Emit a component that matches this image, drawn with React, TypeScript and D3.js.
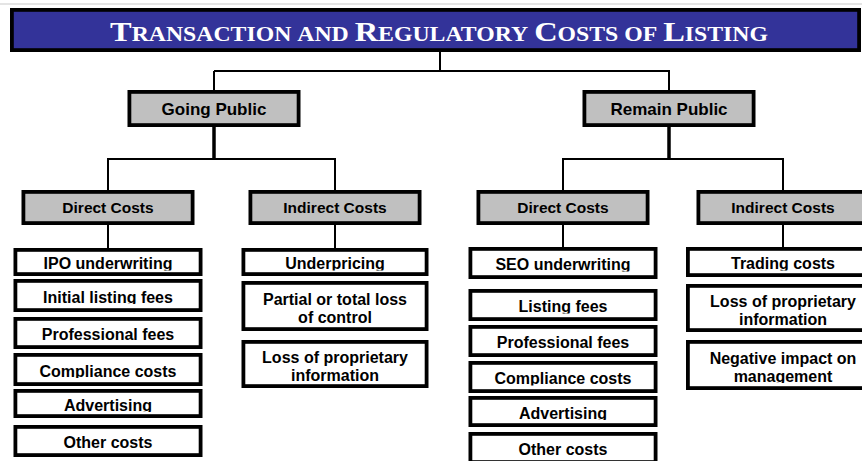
import React from "react";
import * as d3 from "d3";

// ---------- data ----------
const titleText = "Transaction and Regulatory Costs of Listing";
const stages = ["Going Public", "Remain Public"];
const costTypes = ["Direct Costs", "Indirect Costs"];
const goingPublicDirect = [
  "IPO underwriting",
  "Initial listing fees",
  "Professional fees",
  "Compliance costs",
  "Advertising",
  "Other costs",
];
const goingPublicIndirect = [
  "Underpricing",
  "Partial or total loss|of control",
  "Loss of proprietary|information",
];
const remainPublicDirect = [
  "SEO underwriting",
  "Listing fees",
  "Professional fees",
  "Compliance costs",
  "Advertising",
  "Other costs",
];
const remainPublicIndirect = [
  "Trading costs",
  "Loss of proprietary|information",
  "Negative impact on|management",
];

// ---------- layout ----------
const W = 862;
const H = 461;
const TITLE_BOX = { x0: 10, x1: 861, y0: 8, y1: 52 };
const stageCenters = [214, 669];
const costCenters = [108, 335, 563, 783];
const STAGE_BOX = { w: 173, h: 37, top: 90 };
const COST_BOX = { w: 173, h: 35, top: 190 };
const busY = [71, 159];
const leafWidths = [189, 187, 189, 194];
const leafRows: number[][][] = [
  [[248, 276], [279, 312], [317, 349], [353, 386], [389, 418], [425, 457]],
  [[248, 276], [281, 331], [340, 388]],
  [[247, 279], [289, 321], [325, 357], [361, 393], [396, 427], [432, 464]],
  [[247, 277], [284, 332], [340, 390]],
];
const SW = 3.8;
const SANS = "'Liberation Sans', Arial, sans-serif";
const SERIF = "'Liberation Serif', 'Times New Roman', serif";

const treeData = {
  name: titleText,
  children: stages.map((s, si) => ({
    name: s,
    children: costTypes.map((c, ci) => ({
      name: c,
      children: (si === 0
        ? ci === 0
          ? goingPublicDirect
          : goingPublicIndirect
        : ci === 0
        ? remainPublicDirect
        : remainPublicIndirect
      ).map((l) => ({ name: l })),
    })),
  })),
};

export default function App() {
  const root = d3.hierarchy<any>(treeData);
  const stageNodes = root.children!;
  const costNodes = stageNodes.flatMap((s) => s.children!);

  const xStage = d3.scaleOrdinal<number, number>().domain([0, 1]).range(stageCenters);
  const xCost = d3.scaleOrdinal<number, number>().domain([0, 1, 2, 3]).range(costCenters);

  const lines: { x1: number; y1: number; x2: number; y2: number; w: number }[] = [];
  lines.push({ x1: 440, y1: TITLE_BOX.y1, x2: 440, y2: busY[0], w: 2 });
  lines.push({ x1: xStage(0), y1: busY[0], x2: xStage(1) + 1, y2: busY[0], w: 2 });
  stageNodes.forEach((_, i) => {
    lines.push({ x1: xStage(i), y1: busY[0], x2: xStage(i), y2: STAGE_BOX.top, w: 2 });
    lines.push({ x1: xStage(i), y1: STAGE_BOX.top + STAGE_BOX.h, x2: xStage(i), y2: busY[1], w: 3.5 });
    const c0 = xCost(i * 2);
    const c1 = xCost(i * 2 + 1);
    lines.push({ x1: c0 - 1, y1: busY[1], x2: c1 + 1, y2: busY[1], w: 2 });
    [c0, c1].forEach((cx) =>
      lines.push({ x1: cx, y1: busY[1], x2: cx, y2: COST_BOX.top, w: 2 })
    );
  });
  costNodes.forEach((_, j) => {
    lines.push({
      x1: xCost(j),
      y1: COST_BOX.top + COST_BOX.h,
      x2: xCost(j),
      y2: leafRows[j][0][0],
      w: 2,
    });
  });

  const titleSpans = Array.from(titleText).map((ch, i) => {
    const big = ch !== " " && ch === ch.toUpperCase();
    return (
      <tspan key={i} fontSize={big ? 28 : 20.5}>
        {ch === " " ? "\u00a0" : ch.toUpperCase()}
      </tspan>
    );
  });

  return (
    <svg
      width={W}
      height={H}
      style={{ position: "fixed", left: 0, top: 0, background: "#fff" }}
    >
      <rect x={0} y={0} width={W} height={H} fill="#fff" />
      <line x1={0} x2={W} y1={4} y2={4} stroke="#e4e4e4" strokeWidth={2} />
      <rect
        x={TITLE_BOX.x0 + SW / 2}
        y={TITLE_BOX.y0 + SW / 2}
        width={TITLE_BOX.x1 - TITLE_BOX.x0 - SW}
        height={TITLE_BOX.y1 - TITLE_BOX.y0 - SW}
        fill="#333399"
        stroke="#000"
        strokeWidth={SW}
      />
      <text
        x={110}
        y={41}
        textLength={658}
        lengthAdjust="spacingAndGlyphs"
        fill="#fff"
        fontFamily={SERIF}
        fontWeight="bold"
      >
        {titleSpans}
      </text>

      {lines.map((l, i) => (
        <line key={i} x1={l.x1} y1={l.y1} x2={l.x2} y2={l.y2} stroke="#000" strokeWidth={l.w} />
      ))}

      {stageNodes.map((n, i) => (
        <g key={"s" + i}>
          <rect
            x={xStage(i) - STAGE_BOX.w / 2 + SW / 2}
            y={STAGE_BOX.top + SW / 2}
            width={STAGE_BOX.w - SW}
            height={STAGE_BOX.h - SW}
            fill="#c0c0c0"
            stroke="#000"
            strokeWidth={SW}
          />
          <text
            x={xStage(i)}
            y={STAGE_BOX.top + STAGE_BOX.h / 2 + 6}
            textAnchor="middle"
            fontFamily={SANS}
            fontWeight="bold"
            fontSize={17}
            fill="#000"
          >
            {n.data.name}
          </text>
        </g>
      ))}

      {costNodes.map((n, j) => (
        <g key={"c" + j}>
          <rect
            x={xCost(j) - COST_BOX.w / 2 + SW / 2}
            y={COST_BOX.top + SW / 2}
            width={COST_BOX.w - SW}
            height={COST_BOX.h - SW}
            fill="#c0c0c0"
            stroke="#000"
            strokeWidth={SW}
          />
          <text
            x={xCost(j)}
            y={COST_BOX.top + COST_BOX.h / 2 + 5.5}
            textAnchor="middle"
            fontFamily={SANS}
            fontWeight="bold"
            fontSize={15.5}
            fill="#000"
          >
            {n.data.name}
          </text>
        </g>
      ))}

      {costNodes.map((n, j) =>
        n.children!.map((leaf, k) => {
          const [t, b] = leafRows[j][k];
          const w = leafWidths[j];
          const cx = xCost(j);
          const parts = (leaf.data.name as string).split("|");
          const center = (t + b) / 2;
          const baselines =
            parts.length === 1 ? [center + 7] : [center - 1.5, center + 16.5];
          const id = `clip-${j}-${k}`;
          return (
            <g key={id}>
              <clipPath id={id}>
                <rect x={cx - w / 2} y={t} width={w} height={baselines[baselines.length - 1] + 1.5 - t} />
              </clipPath>
              <rect
                x={cx - w / 2 + SW / 2}
                y={t + SW / 2}
                width={w - SW}
                height={b - t - SW}
                fill="#fff"
                stroke="#000"
                strokeWidth={SW}
              />
              <text
                textAnchor="middle"
                fontFamily={SANS}
                fontWeight="bold"
                fontSize={16}
                fill="#000"
                clipPath={`url(#${id})`}
              >
                {parts.map((p, pi) => (
                  <tspan key={pi} x={cx} y={baselines[pi]}>
                    {p}
                  </tspan>
                ))}
              </text>
            </g>
          );
        })
      )}
    </svg>
  );
}
